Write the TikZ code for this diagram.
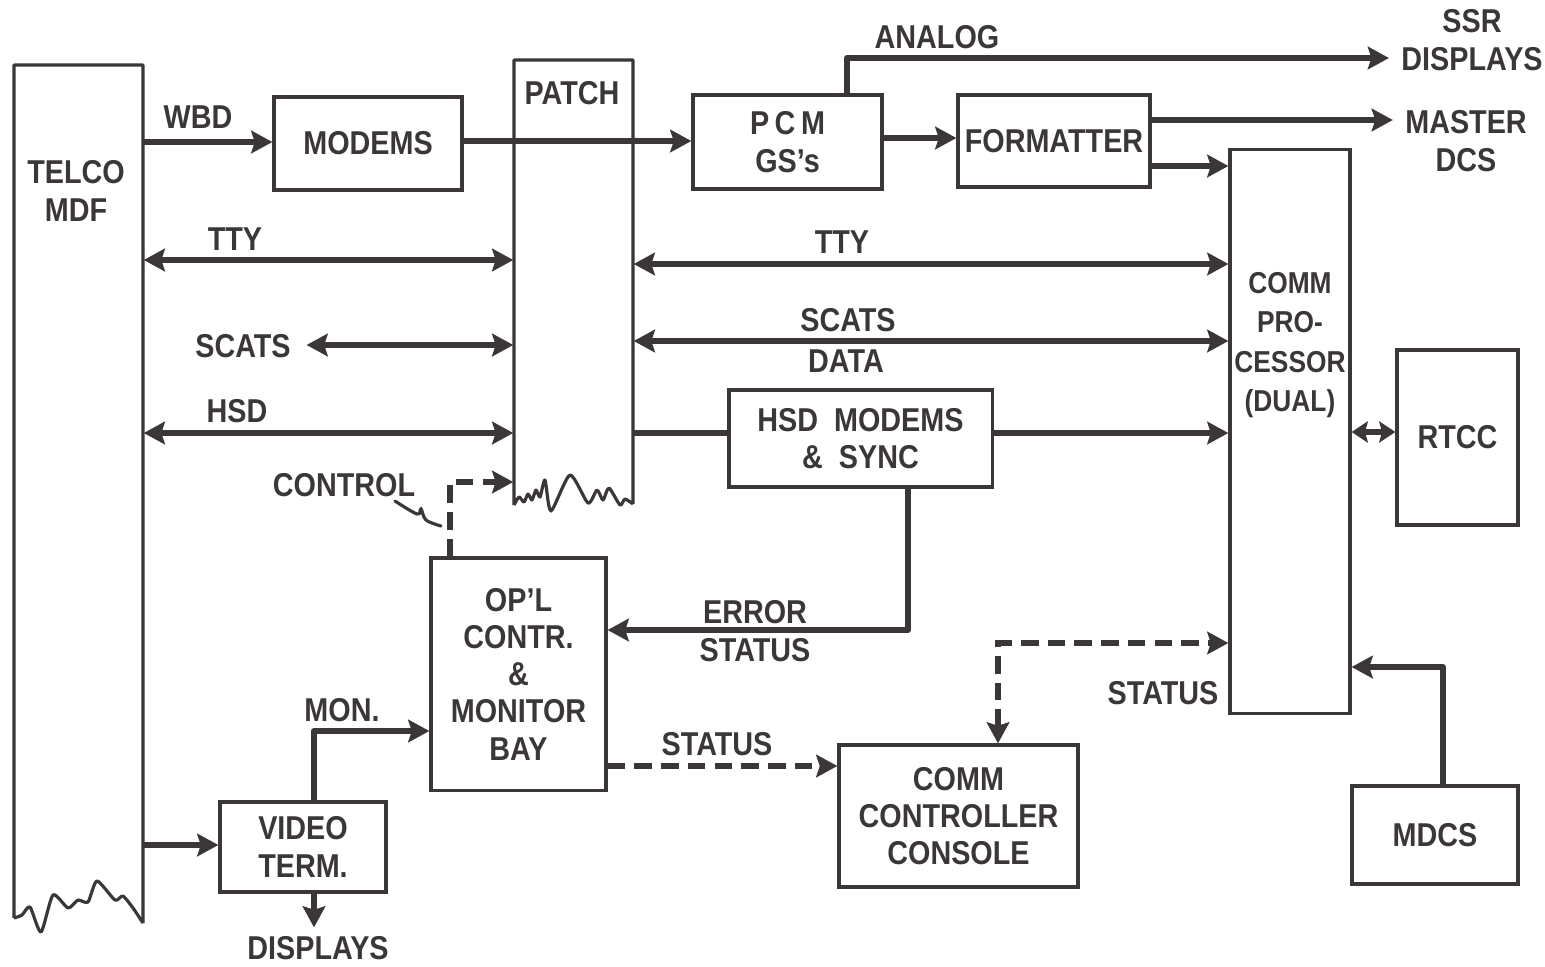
\documentclass[tikz,border=0pt]{standalone}
\usepackage{fontspec}
\setmainfont[FakeStretch=0.87]{Liberation Sans}
\usetikzlibrary{arrows.meta}
\definecolor{ink}{HTML}{3B3736}
\begin{document}
\begin{tikzpicture}[x=0.01cm,y=-0.01cm,
  every node/.style={font=\bfseries\fontsize{9.4}{10.6}\selectfont, text=ink, align=center},
  box/.style={draw=ink, line width=0.9pt, inner sep=0pt},
  area/.style={inner sep=0pt},
  outline/.style={draw=ink, line width=0.9pt, line join=round},
  link/.style={draw=ink, line width=1.7pt, line join=round},
  tipA/.tip={Stealth[length=6pt,width=6.4pt,inset=1pt]},
  tipS/.tip={Stealth[length=4.6pt,width=6pt,inset=0.8pt]},
  arr/.style={link, -tipA},
  darr/.style={link, tipA-tipA},
  dsh/.style={draw=ink, line width=1.6pt, dash pattern=on 5pt off 2.6pt},
]
\useasboundingbox (0,0) rectangle (1545,966);

% ---------- blocks ----------
\node[area, minimum width=1.29cm, minimum height=8.55cm] (telco) at (78.5,492.5) {};
\node (telcotxt) at (76,191) {TELCO\\MDF};
\draw[outline] (14,918) -- (14,65) -- (143,65) -- (143,923)
  plot[smooth, tension=0.4] coordinates {(143,923) (133,908) (123,896) (115,900) (97,881) (88,902) (78,900) (68,908) (53,895) (41,932) (30,907) (22,915) (14,918)};

\node[area, minimum width=1.19cm, minimum height=4.45cm] (patch) at (573.5,282.5) {};
\node (patchtxt) at (572,93) {PATCH};
\draw[outline] (514,505) -- (514,60) -- (633,60) -- (633,504)
  plot[smooth, tension=0.4] coordinates {(633,504) (625,499) (620,505) (609,488) (603,500) (597,490) (588,503) (570,475) (551,511) (545,480) (540,497) (536,490) (532,500) (528,494) (524,502) (519,497) (514,505)};

\node[box, minimum width=1.88cm, minimum height=0.93cm] (modems) at (368,143.5) {MODEMS};
\node[box, minimum width=1.89cm, minimum height=0.94cm] (pcm) at (787.5,142) {P\,C\,M\\GS’s};
\node[box, minimum width=1.92cm, minimum height=0.92cm] (fmt) at (1054,141) {FORMATTER};
\node[box, minimum width=1.20cm, minimum height=5.63cm] (comm) at (1290,431.5) {};
\node[font=\bfseries\fontsize{8.6}{11.2}\selectfont] (commtxt) at (1290,345) {COMM\\PRO-\\CESSOR\\(DUAL)};
\node[box, minimum width=1.21cm, minimum height=1.75cm] (rtcc) at (1457.5,437.5) {RTCC};
\node[box, minimum width=2.63cm, minimum height=0.97cm] (hsd) at (860.5,438.5) {HSD\ \ MODEMS\\\&\ \ SYNC};
\node[box, minimum width=1.75cm, minimum height=2.32cm] (opl) at (518.5,674) {OP’L\\CONTR.\\\&\\MONITOR\\BAY};
\node[box, minimum width=1.66cm, minimum height=0.90cm] (video) at (303,847) {VIDEO\\TERM.};
\node[box, minimum width=2.39cm, minimum height=1.42cm] (console) at (958.5,816) {COMM\\CONTROLLER\\CONSOLE};
\node[box, minimum width=1.66cm, minimum height=0.98cm] (mdcs) at (1435,835) {MDCS};

% ---------- free labels ----------
\node (wbd) at (198,117) {WBD};
\node (analog) at (937,37) {ANALOG};
\node (ssr) at (1472,40) {SSR\\DISPLAYS};
\node (master) at (1466,141) {MASTER\\DCS};
\node (ttyL) at (235,239) {TTY};
\node (scatsL) at (243,346) {SCATS};
\node (hsdL) at (237,411) {HSD};
\node (ttyR) at (842,242) {TTY};
\node (scatsR) at (848,320) {SCATS};
\node (dataR) at (846,361) {DATA};
\node (control) at (344,485) {CONTROL};
\node (errst) at (755,631) {ERROR\\STATUS};
\node (mon) at (342,710) {MON.};
\node (status1) at (717,744) {STATUS};
\node (status2) at (1163,693) {STATUS};
\node (displays) at (318,948) {DISPLAYS};

% ---------- connectors ----------
\draw[arr] (telco.east |- 0,142) -- (modems.west |- 0,142);
\draw[arr] (modems.east |- 0,141) -- (pcm.west |- 0,141);
\draw[arr] (pcm.north -| 847,0) |- (ssr.west |- 0,58);
\draw[arr] (pcm.east |- 0,138) -- (fmt.west |- 0,138);
\draw[arr] (fmt.east |- 0,120) -- (master.west |- 0,120);
\draw[arr] (fmt.east |- 0,166) -- (comm.west |- 0,166);

\draw[darr] (telco.east |- 0,260) -- (patch.west |- 0,260);
\draw[darr] ([xshift=1pt]scatsL.east |- 0,345) -- (patch.west |- 0,345);
\draw[darr] (telco.east |- 0,433) -- (patch.west |- 0,433);

\draw[darr] (patch.east |- 0,264) -- (comm.west |- 0,264);
\draw[darr] (patch.east |- 0,341) -- (comm.west |- 0,341);
\draw[link] (patch.east |- 0,433) -- (hsd.west |- 0,433);
\draw[arr] (hsd.east |- 0,433) -- (comm.west |- 0,433);
\draw[link, tipS-tipS] (comm.east |- 0,432) -- (rtcc.west |- 0,432);

\draw[dsh, -tipA] (opl.north -| 450,0) |- (patch.west |- 0,482);
\draw[ink, line width=0.9pt, line cap=round] plot[smooth, tension=0.6] coordinates {(395,501) (417,514) (421,509) (426,520) (441,526)};

\draw[arr] (hsd.south -| 908,0) |- (opl.east |- 0,630);
\draw[arr] (video.north -| 314,0) |- (opl.west |- 0,731);
\draw[arr] (telco.east |- 0,845) -- (video.west |- 0,845);
\draw[arr] (video.south -| 314,0) -- ([yshift=-1pt]displays.north -| 314,0);

\draw[dsh, -tipA] (opl.east |- 0,766) -- (console.west |- 0,766);
\draw[dsh, tipA-tipA] (console.north -| 998,0) |- (comm.west |- 0,643);
\draw[arr] (mdcs.north -| 1443,0) |- (comm.east |- 0,667);
\end{tikzpicture}
\end{document}
